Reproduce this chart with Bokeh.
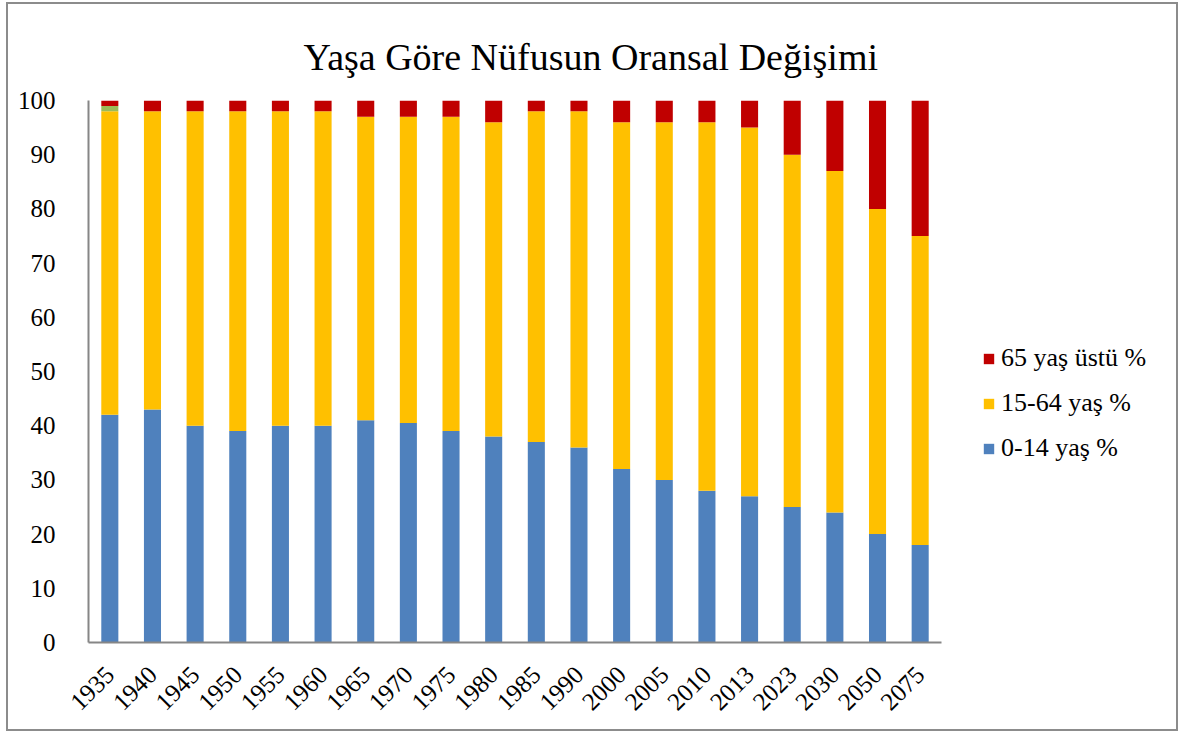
import math
from bokeh.plotting import figure
from bokeh.layouts import row
from bokeh.models import (ColumnDataSource, Legend, LegendItem, Title,
                          SingleIntervalTicker, Range1d)
from bokeh.embed import file_html
from bokeh.resources import INLINE

years = ["1935", "1940", "1945", "1950", "1955", "1960", "1965", "1970", "1975",
         "1980", "1985", "1990", "2000", "2005", "2010", "2013", "2023", "2030",
         "2050", "2075"]
age_0_14 = [42, 43, 40, 39, 40, 40, 41, 40.5, 39, 38, 37, 36, 32, 30, 28, 27, 25, 24, 20, 18]
age_15_64 = [56, 55, 58, 59, 58, 58, 56, 56.5, 58, 58, 61, 62, 64, 66, 68, 68, 65, 63, 60, 57]
unknown = [1, 0, 0, 0, 0, 0, 0, 0, 0, 0, 0, 0, 0, 0, 0, 0, 0, 0, 0, 0]
age_65 = [1, 2, 2, 2, 2, 2, 3, 3, 3, 4, 2, 2, 4, 4, 4, 5, 10, 13, 20, 25]

series_keys = ["a", "b", "u", "c"]
series_names = {"a": "0-14 yaş %", "b": "15-64 yaş %", "c": "65 yaş üstü %"}
colors = ["#4F81BD", "#FFC000", "#9BBB59", "#C00000"]

source = ColumnDataSource(dict(x=years, a=age_0_14, b=age_15_64, u=unknown, c=age_65))

SERIF = "Liberation Serif"

p = figure(x_range=years, y_range=Range1d(0, 100), width=943, height=725,
           output_backend="svg", toolbar_location=None,
           min_border_left=80, min_border_right=10, min_border_top=96,
           min_border_bottom=87)

renderers = p.vbar_stack(series_keys, x="x", width=0.4, color=colors,
                         line_color=None, source=source)

p.xgrid.visible = False
p.ygrid.visible = False
p.outline_line_color = None

p.yaxis.ticker = SingleIntervalTicker(interval=10)
for ax in (p.xaxis[0], p.yaxis[0]):
    ax.axis_line_color = "#868686"
    ax.axis_line_width = 2
    ax.major_tick_line_color = None
    ax.minor_tick_line_color = None
    ax.major_label_text_font = SERIF
    ax.major_label_text_color = "#000000"
p.yaxis.major_label_text_font_size = "25px"
p.xaxis.major_label_text_font_size = "25px"
p.yaxis.major_label_standoff = 27
p.xaxis.major_label_orientation = math.pi / 4
p.xaxis.major_label_standoff = 22

title = Title(text="Yaşa Göre Nüfusun Oransal Değişimi", align="left",
              text_font=SERIF, text_font_size="38px", text_font_style="normal",
              text_color="#000000", offset=215, standoff=46)
p.add_layout(title, "above")

# legend panel (its swatches sit outside the visible range)
lp = figure(width=225, height=725, x_range=(0, 1), y_range=(0, 1),
            output_backend="svg", toolbar_location=None,
            x_axis_location=None, y_axis_location=None, min_border=0)
lp.xgrid.visible = False
lp.ygrid.visible = False
lp.outline_line_color = None
swatch = ColumnDataSource(dict(x=[10], top=[10]))
leg_r = {k: lp.vbar(x="x", top="top", width=0.4, color=c, line_color=None, source=swatch)
         for k, c in zip(series_keys, colors)}

items = [LegendItem(label=series_names["c"], renderers=[leg_r["c"]]),
         LegendItem(label=series_names["b"], renderers=[leg_r["b"]]),
         LegendItem(label=series_names["a"], renderers=[leg_r["a"]])]
legend = Legend(items=items, location=(31, 179), orientation="vertical",
                label_text_font=SERIF, label_text_font_size="26px",
                label_text_color="#000000", glyph_width=13, glyph_height=13,
                label_height=30, spacing=15, padding=6, margin=0,
                border_line_color=None, background_fill_alpha=0,
                label_standoff=6)
lp.add_layout(legend, "center")

layout = row(p, lp)
layout.styles = {"border": "2px solid #8c8c8c", "margin": "2px 0 0 6px",
                 "width": "fit-content"}

open("out.html", "w").write(file_html(layout, INLINE))
